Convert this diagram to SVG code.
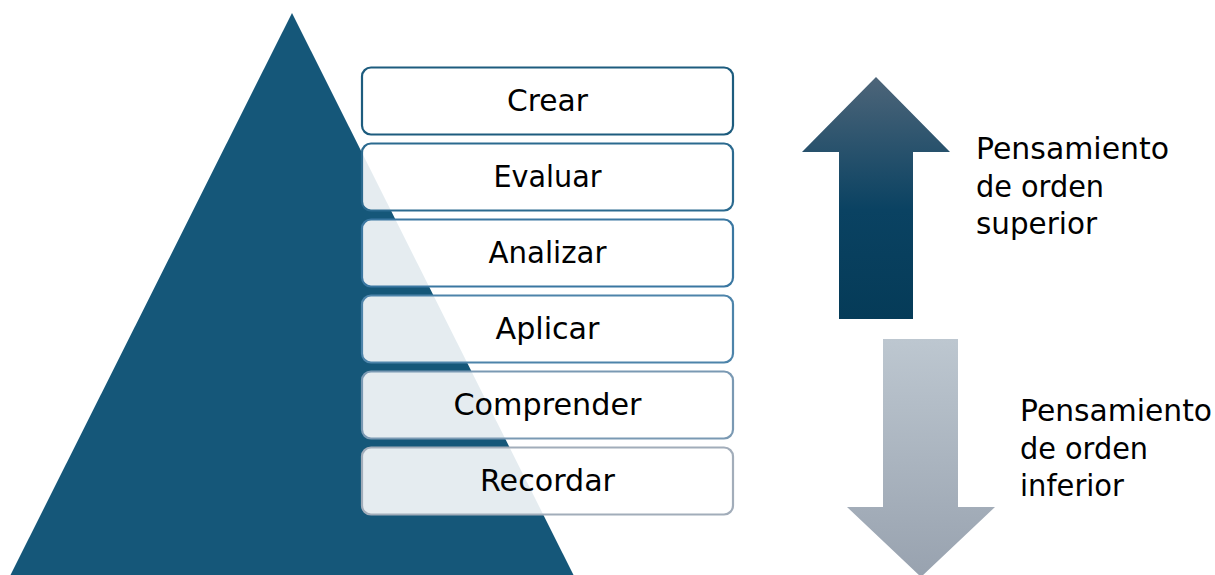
<svg xmlns="http://www.w3.org/2000/svg" width="1215" height="575" viewBox="0 0 1215 575">
  <defs>
    <linearGradient id="gUp" x1="0" y1="0" x2="0" y2="1">
      <stop offset="0" stop-color="#4d6579"/>
      <stop offset="0.55" stop-color="#0a4262"/>
      <stop offset="1" stop-color="#053b58"/>
    </linearGradient>
    <linearGradient id="gDown" x1="0" y1="0" x2="0" y2="1">
      <stop offset="0" stop-color="#bdc7d0"/>
      <stop offset="1" stop-color="#98a2af"/>
    </linearGradient>
    <style>
      .box { fill: #ffffff; fill-opacity: 0.89; stroke-width: 2.2; }
      .lbl { font-family: "DejaVu Sans", "Liberation Sans", sans-serif; font-size: 29.5px; fill: #000000; }
      .mid { text-anchor: middle; }
    </style>
  </defs>
  <rect width="1215" height="575" fill="#ffffff"/>

  <g id="pyramid">
    <polygon points="292,13 574,576 10,576" fill="#155779"/>
  </g>

  <g id="node-crear">
    <rect class="box" x="362" y="67.5" width="371" height="67" rx="9" stroke="#1d5c7e"/>
    <text class="lbl mid" x="547.5" y="111" textLength="81" lengthAdjust="spacingAndGlyphs">Crear</text>
  </g>
  <g id="node-evaluar">
    <rect class="box" x="362" y="143.5" width="371" height="67" rx="9" stroke="#2b6a8f"/>
    <text class="lbl mid" x="547.5" y="187" textLength="108" lengthAdjust="spacingAndGlyphs">Evaluar</text>
  </g>
  <g id="node-analizar">
    <rect class="box" x="362" y="219.5" width="371" height="67" rx="9" stroke="#3a77a1"/>
    <text class="lbl mid" x="547.5" y="263" textLength="118" lengthAdjust="spacingAndGlyphs">Analizar</text>
  </g>
  <g id="node-aplicar">
    <rect class="box" x="362" y="295.5" width="371" height="67" rx="9" stroke="#4d84aa"/>
    <text class="lbl mid" x="547.5" y="339" textLength="104" lengthAdjust="spacingAndGlyphs">Aplicar</text>
  </g>
  <g id="node-comprender">
    <rect class="box" x="362" y="371.5" width="371" height="67" rx="9" stroke="#7a99b3"/>
    <text class="lbl mid" x="547.5" y="415" textLength="188" lengthAdjust="spacingAndGlyphs">Comprender</text>
  </g>
  <g id="node-recordar">
    <rect class="box" x="362" y="447.5" width="371" height="67" rx="9" stroke="#a2adba"/>
    <text class="lbl mid" x="547.5" y="491" textLength="135" lengthAdjust="spacingAndGlyphs">Recordar</text>
  </g>

  <g id="connectors">
    <polygon id="arrow-up" points="876,77 950,152 913,152 913,319 839,319 839,152 802,152" fill="url(#gUp)"/>
    <polygon id="arrow-down" points="883,339 958,339 958,507 995,507 921,577 847,507 883,507" fill="url(#gDown)"/>
  </g>

  <g id="label-superior">
    <text class="lbl" x="976" y="159" textLength="193" lengthAdjust="spacingAndGlyphs">Pensamiento</text>
    <text class="lbl" x="976" y="197" textLength="128" lengthAdjust="spacingAndGlyphs">de orden</text>
    <text class="lbl" x="976" y="234" textLength="121" lengthAdjust="spacingAndGlyphs">superior</text>
  </g>
  <g id="label-inferior">
    <text class="lbl" x="1020" y="421" textLength="192" lengthAdjust="spacingAndGlyphs">Pensamiento</text>
    <text class="lbl" x="1020" y="459" textLength="128" lengthAdjust="spacingAndGlyphs">de orden</text>
    <text class="lbl" x="1020" y="496" textLength="104" lengthAdjust="spacingAndGlyphs">inferior</text>
  </g>
</svg>
